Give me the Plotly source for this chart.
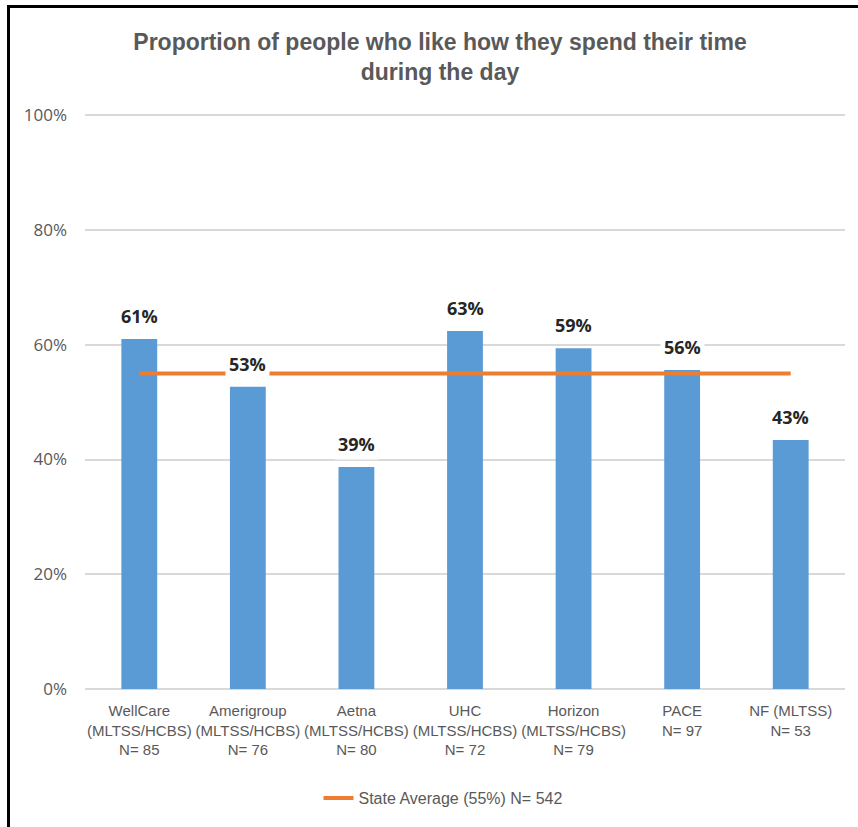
import plotly.graph_objects as go

categories = [
    "WellCare<br>(MLTSS/HCBS)<br>N= 85",
    "Amerigroup<br>(MLTSS/HCBS)<br>N= 76",
    "Aetna<br>(MLTSS/HCBS)<br>N= 80",
    "UHC<br>(MLTSS/HCBS)<br>N= 72",
    "Horizon<br>(MLTSS/HCBS)<br>N= 79",
    "PACE<br>N= 97",
    "NF (MLTSS)<br>N= 53",
]
values = [0.61, 0.527, 0.387, 0.624, 0.594, 0.556, 0.434]
labels = ["61%", "53%", "39%", "63%", "59%", "56%", "43%"]
state_avg = [0.55] * len(categories)
state_name = "State Average (55%) N= 542"
title_text = "Proportion of people who like how they spend their time<br>during the day"

W, H = 858, 827
L, R, T, B = 85, 13, 113, 138
pw, ph = W - L - R, H - T - B

sans = "Liberation Sans, Arial, sans-serif"
grey = "#595959"

fig = go.Figure()
fig.add_trace(go.Bar(
    x=categories, y=values, marker=dict(color="#5B9BD5", line=dict(width=0)),
    width=0.33, showlegend=False, hoverinfo="skip",
))
fig.add_trace(go.Scatter(
    x=categories, y=state_avg, mode="lines", name=state_name,
    line=dict(color="#ED7D31", width=4),
))

for c, v, t in zip(categories, values, labels):
    fig.add_annotation(
        x=c, y=v, text="<b>" + t + "</b>", showarrow=False,
        yanchor="middle", yshift=23, bgcolor="white", borderpad=3,
        font=dict(family="Open Sans, sans-serif", size=18, color="#262626"),
    )

def px_x(p):
    return (p - L) / pw

def px_y(p):
    return (H - B - p) / ph

shapes = [
    dict(type="line", xref="paper", yref="paper", x0=px_x(8.5), x1=px_x(W + 2),
         y0=px_y(6.5), y1=px_y(6.5), line=dict(color="black", width=3)),
    dict(type="line", xref="paper", yref="paper", x0=px_x(8.5), x1=px_x(8.5),
         y0=px_y(5), y1=px_y(H + 2), line=dict(color="black", width=3)),
]

fig.update_layout(
    width=W, height=H,
    margin=dict(l=L, r=R, t=T, b=B),
    paper_bgcolor="white", plot_bgcolor="white",
    title=dict(text=title_text, x=440 / W, xanchor="center", xref="container",
               y=1 - 50 / H, yanchor="middle", yref="container",
               font=dict(family=sans, size=23, color=grey, weight="bold")),
    bargap=0.67,
    shapes=shapes,
    showlegend=True,
    legend=dict(orientation="h", x=px_x(443), xanchor="center", y=px_y(798),
                yanchor="middle", font=dict(family=sans, size=16, color=grey),
                itemwidth=30),
    xaxis=dict(tickfont=dict(family=sans, size=15, color=grey), showgrid=False,
               showline=False, ticks="", ticklabelstandoff=11),
    yaxis=dict(range=[0, 1.004], tickvals=[0, 0.2, 0.4, 0.6, 0.8, 1.0],
               tickformat=".0%", gridcolor="#D9D9D9", gridwidth=1.5,
               zeroline=True, zerolinecolor="#D9D9D9", zerolinewidth=1.5,
               tickfont=dict(family="Open Sans, sans-serif", size=17, color=grey),
               ticklabelstandoff=17, showline=False),
)

fig.write_html("out.html", config={"displayModeBar": False},
               post_script="document.body.style.margin='0';")
